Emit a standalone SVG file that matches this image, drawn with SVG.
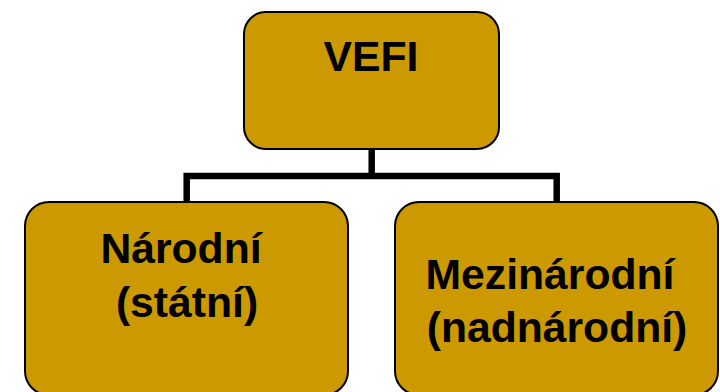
<svg xmlns="http://www.w3.org/2000/svg" width="720" height="392" viewBox="0 0 720 392">
<style>
.box{fill:#CC9900;stroke:#000;stroke-width:2}
.lbl{font-family:"Liberation Sans",Arial,sans-serif;font-weight:bold;font-size:42.67px;fill:#000;text-anchor:middle}
.conn{fill:none;stroke:#000;stroke-width:6.5;stroke-linejoin:miter;stroke-linecap:butt}
</style>
<rect width="720" height="392" fill="#fff"/>
<g id="connectors">
<path class="conn" d="M186.7 202 V176 H556.7 V202"/>
<path class="conn" d="M371.7 149 V176"/>
</g>
<g id="vefi">
<rect class="box" x="244" y="12" width="255" height="137" rx="22"/>
<text class="lbl" x="371" y="71">VEFI</text>
</g>
<g id="narodni">
<rect class="box" x="25" y="202" width="323" height="193" rx="24"/>
<text class="lbl" x="181" y="263">Národní</text>
<text class="lbl" x="187" y="317">(státní)</text>
</g>
<g id="mezinarodni">
<rect class="box" x="395" y="202" width="323" height="193" rx="24"/>
<text class="lbl" x="550" y="289">Mezinárodní</text>
<text class="lbl" x="557" y="342">(nadnárodní)</text>
</g>
</svg>
